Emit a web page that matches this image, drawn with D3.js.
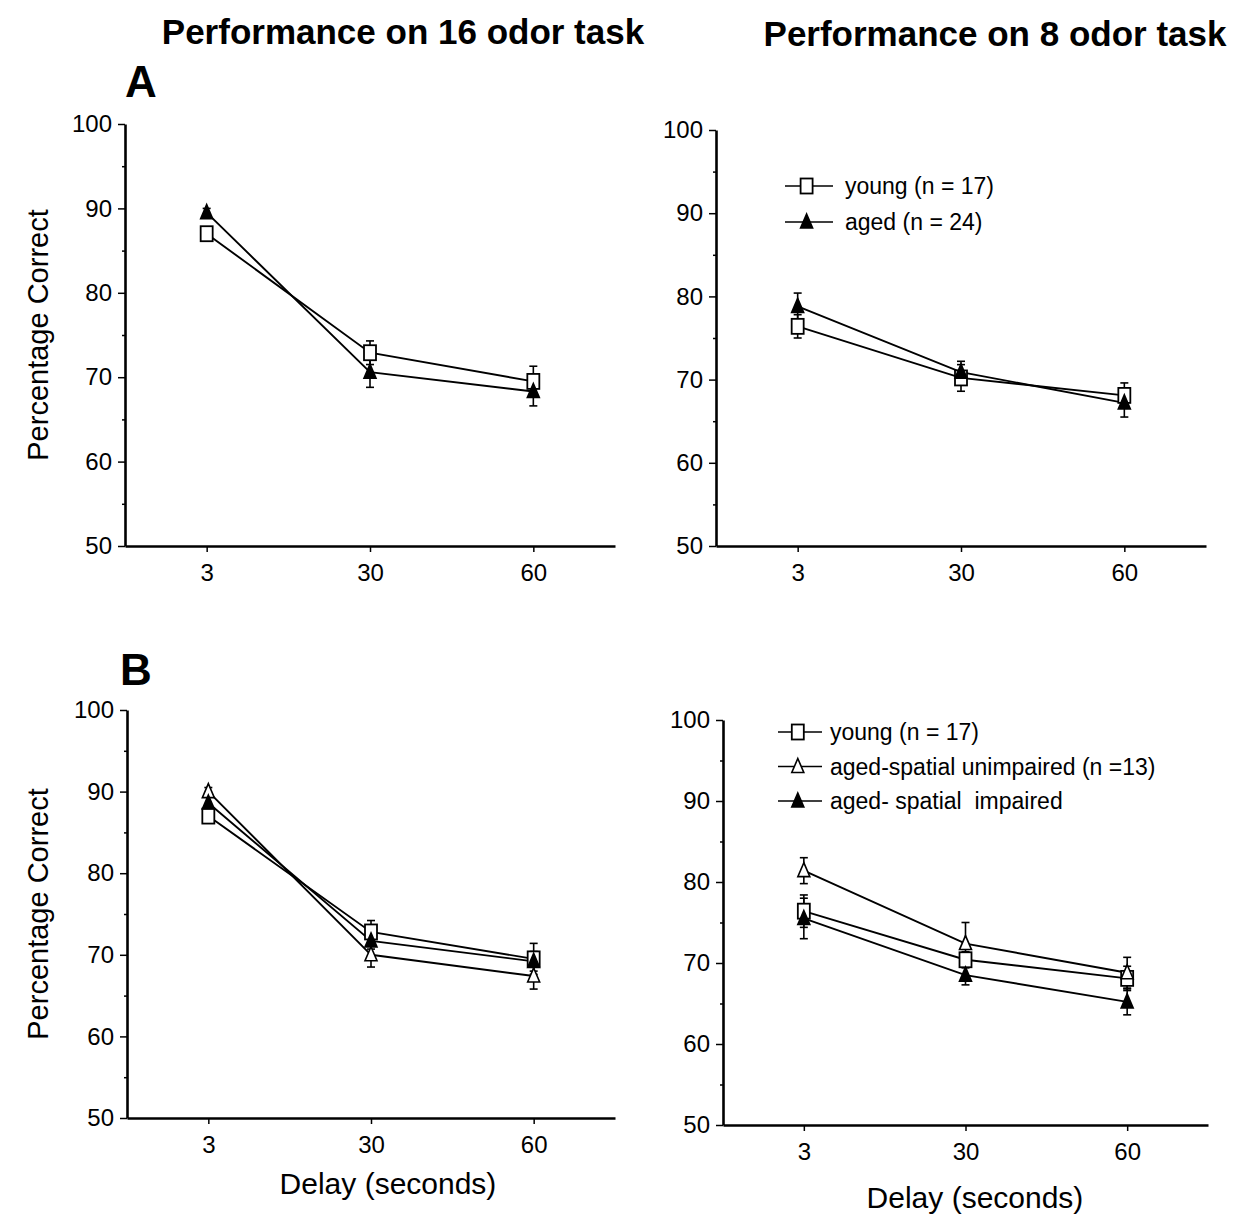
<!DOCTYPE html>
<html lang="en">
<head>
<meta charset="UTF-8">
<title>Performance on odor tasks</title>
<script src="https://d3js.org/d3.v7.min.js"></script>
<style>
  body { margin: 0; background: #fff; }
  svg text { font-family: "Liberation Sans", Arial, Helvetica, sans-serif; }
  .axis path, .axis line { stroke: #000; }
  .axis text { font-size: 24px; fill: #000; }
  .pre { white-space: pre; }
</style>
</head>
<body>
<svg width="1234" height="1214"></svg>
<script>
// delays (x categories) and y ticks
const delays = ["3", "30", "60"];
const yTicks = [50, 60, 70, 80, 90, 100];
const yMinor = [55, 65, 75, 85, 95];

// A, 16 odor task
const a16Young = [87.0, 72.9, 69.5];
const a16YoungErr = [0.6, 1.4, 1.8];
const a16Aged = [89.5, 70.6, 68.3];
const a16AgedErr = [0.5, 1.8, 1.7];

// A, 8 odor task
const a8Young = [76.4, 70.2, 68.1];
const a8YoungErr = [1.4, 1.6, 1.5];
const a8Aged = [78.8, 70.9, 67.2];
const a8AgedErr = [1.6, 1.3, 1.7];

// B, 16 odor task
const b16Young = [87.0, 72.8, 69.5];
const b16YoungErr = [0.6, 1.4, 1.9];
const b16Unimp = [90.0, 70.0, 67.4];
const b16UnimpErr = [0.5, 1.5, 1.6];
const b16Imp = [88.6, 71.7, 69.2];
const b16ImpErr = [0.8, 1.0, 1.2];

// B, 8 odor task
const b8Young = [76.4, 70.4, 68.1];
const b8YoungErr = [2.0, 1.0, 1.5];
const b8Unimp = [81.4, 72.4, 68.8];
const b8UnimpErr = [1.6, 2.6, 1.9];
const b8Imp = [75.5, 68.5, 65.2];
const b8ImpErr = [2.5, 1.2, 1.6];

const legendA = ["young (n = 17)", "aged (n = 24)"];
const legendB = ["young (n = 17)", "aged-spatial unimpaired (n =13)", "aged- spatial  impaired"];

const svg = d3.select("svg");

// draws one marker at (0,0) inside g
function marker(g, type) {
  if (type === "square") {
    g.append("rect").attr("x", -6).attr("y", -7.5).attr("width", 12).attr("height", 15)
      .attr("fill", "#fff").attr("stroke", "#000").attr("stroke-width", 1.8);
  } else {
    g.append("path").attr("d", "M0,-8 L6,6 L-6,6 Z")
      .attr("fill", type === "tri" ? "#000" : "#fff")
      .attr("stroke", "#000").attr("stroke-width", 1.6);
  }
}

function drawPanel(p) {
  const g = svg.append("g").attr("transform", `translate(${p.x0},0)`);
  const w = p.x1 - p.x0;
  const x = d3.scalePoint().domain(delays).range([0, w]).padding(0.5);
  const y = d3.scaleLinear().domain([50, 100]).range([p.yb, p.yt]);

  // y axis, major + minor
  const ya = g.append("g").attr("class", "axis")
    .call(d3.axisLeft(y).tickValues(yTicks).tickSize(7).tickSizeOuter(0).tickPadding(6));
  ya.select(".domain").attr("stroke-width", 2.6);
  ya.selectAll(".tick line").attr("stroke-width", 1.5);
  g.append("g").attr("class", "axis")
    .call(d3.axisLeft(y).tickValues(yMinor).tickSize(3).tickFormat(""))
    .call(s => s.select(".domain").remove())
    .selectAll(".tick line").attr("stroke-width", 1.5);

  // x axis
  const xa = g.append("g").attr("class", "axis").attr("transform", `translate(0,${p.yb})`)
    .call(d3.axisBottom(x).tickSize(6).tickSizeOuter(0).tickPadding(12));
  xa.select(".domain").attr("stroke-width", 2.6);
  xa.selectAll(".tick line").attr("stroke-width", 1.5);

  const line = d3.line().x((d, i) => x(delays[i])).y(d => y(d));

  p.series.forEach(s => {
    g.append("path").datum(s.values).attr("d", line)
      .attr("fill", "none").attr("stroke", "#000").attr("stroke-width", 1.9);
  });
  p.series.forEach(s => {
    s.values.forEach((v, i) => {
      const cx = x(delays[i]);
      const e = s.err[i];
      const eb = g.append("g").attr("stroke", "#000").attr("stroke-width", 1.6);
      eb.append("line").attr("x1", cx).attr("x2", cx).attr("y1", y(v - e)).attr("y2", y(v + e));
      [v - e, v + e].forEach(t => eb.append("line")
        .attr("x1", cx - 4).attr("x2", cx + 4).attr("y1", y(t)).attr("y2", y(t)));
    });
  });
  p.series.forEach(s => {
    s.values.forEach((v, i) => {
      marker(g.append("g").attr("transform", `translate(${x(delays[i])},${y(v)})`), s.type);
    });
  });

  if (p.legend) {
    p.series.forEach((s, i) => {
      const ly = p.legend.y + i * p.legend.dy;
      svg.append("line").attr("x1", p.legend.x).attr("x2", p.legend.x + p.legend.len)
        .attr("y1", ly).attr("y2", ly).attr("stroke", "#000").attr("stroke-width", 1.6);
      marker(svg.append("g").attr("transform", `translate(${p.legend.x + p.legend.len * 0.45},${ly})`), s.type);
      svg.append("text").attr("class", "pre").attr("x", p.legend.tx).attr("y", ly).attr("dy", "0.35em")
        .attr("font-size", 23).text(p.legend.labels[i]);
    });
  }

  if (p.ylabel) {
    svg.append("text")
      .attr("transform", `translate(${p.ylabel.x},${(p.yt + p.yb) / 2}) rotate(-90)`)
      .attr("text-anchor", "middle").attr("font-size", 29).text("Percentage Correct");
  }
  if (p.xlabel) {
    svg.append("text").attr("x", p.xlabel.x).attr("y", p.xlabel.y)
      .attr("text-anchor", "middle").attr("font-size", 30).text("Delay (seconds)");
  }
}

drawPanel({
  x0: 125, x1: 615, yt: 124, yb: 546,
  series: [
    { values: a16Young, err: a16YoungErr, type: "square" },
    { values: a16Aged, err: a16AgedErr, type: "tri" }
  ],
  ylabel: { x: 48 }
});
drawPanel({
  x0: 716, x1: 1206, yt: 130, yb: 546,
  series: [
    { values: a8Young, err: a8YoungErr, type: "square" },
    { values: a8Aged, err: a8AgedErr, type: "tri" }
  ],
  legend: { x: 785, len: 48, y: 186, dy: 36, tx: 845, labels: legendA }
});
drawPanel({
  x0: 127, x1: 615, yt: 710, yb: 1118,
  series: [
    { values: b16Young, err: b16YoungErr, type: "square" },
    { values: b16Unimp, err: b16UnimpErr, type: "opentri" },
    { values: b16Imp, err: b16ImpErr, type: "tri" }
  ],
  ylabel: { x: 48 },
  xlabel: { x: 388, y: 1194 }
});
drawPanel({
  x0: 723, x1: 1208, yt: 720, yb: 1125,
  series: [
    { values: b8Young, err: b8YoungErr, type: "square" },
    { values: b8Unimp, err: b8UnimpErr, type: "opentri" },
    { values: b8Imp, err: b8ImpErr, type: "tri" }
  ],
  legend: { x: 778, len: 44, y: 732, dy: 34.5, tx: 830, labels: legendB },
  xlabel: { x: 975, y: 1208 }
});

// titles and panel letters
svg.append("text").attr("x", 403).attr("y", 44).attr("text-anchor", "middle")
  .attr("font-size", 35).attr("font-weight", "bold").text("Performance on 16 odor task");
svg.append("text").attr("x", 995).attr("y", 46).attr("text-anchor", "middle")
  .attr("font-size", 35).attr("font-weight", "bold").text("Performance on 8 odor task");
svg.append("text").attr("x", 125).attr("y", 97)
  .attr("font-size", 44).attr("font-weight", "bold").text("A");
svg.append("text").attr("x", 120).attr("y", 685)
  .attr("font-size", 44).attr("font-weight", "bold").text("B");
</script>
</body>
</html>
